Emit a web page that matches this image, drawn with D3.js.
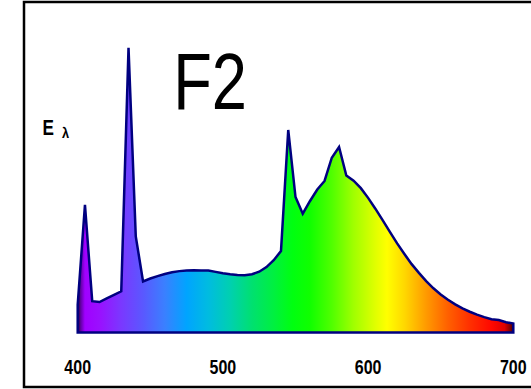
<!DOCTYPE html>
<html>
<head>
<meta charset="utf-8">
<script src="https://cdn.jsdelivr.net/npm/d3@7"></script>
<style>
  html, body { margin: 0; padding: 0; background: #fff; }
  svg { display: block; font-family: "Liberation Sans", Arial, sans-serif; }
</style>
</head>
<body>
<script>
// CIE illuminant F2 relative spectral power, 400-700 nm, 5 nm steps
const wavelengths = [400,405,410,415,420,425,430,435,440,445,450,455,460,465,470,475,480,485,490,495,
  500,505,510,515,520,525,530,535,540,545,550,555,560,565,570,575,580,585,590,595,
  600,605,610,615,620,625,630,635,640,645,650,655,660,665,670,675,680,685,690,695,700];
const power = [3.44,15.69,3.85,3.74,4.19,4.62,5.06,34.98,11.81,6.27,6.63,6.93,7.19,7.40,7.54,7.62,7.65,7.62,7.62,7.45,
  7.28,7.15,7.05,7.04,7.16,7.47,8.04,8.88,10.01,24.88,16.64,14.59,16.16,17.56,18.62,21.47,22.79,19.29,18.66,17.73,
  16.54,15.21,13.80,12.36,10.95,9.65,8.40,7.32,6.31,5.43,4.68,4.02,3.45,2.96,2.55,2.19,1.89,1.64,1.53,1.27,1.10];
const tickLabels = [400, 500, 600, 700];
const title = "F2";
const yLabel = "E";
const yLabelSub = "λ";
// spectrum gradient stops (wavelength, colour)
const stopWavelengths = [400,402,405,415,430,445,460,475,490,505,520,535,548,560,575,590,605,613,625,640,655,670,685,694,698,700];
const stopColors = ["#1a0020","#6000a0","#a000ff","#9a10ff","#7a38ff","#5a58ff","#3a80ff","#00a4ff","#00bce0","#00d0b0",
  "#00e070","#00f040","#00ff10","#10ff00","#50ff00","#a0ff00","#e0ff00","#ffff00","#ffd800","#ff9a00",
  "#ff6000","#ff3000","#ff0800","#e00000","#800000","#400000"];

const W = 531, H = 389;
const svg = d3.select("body").append("svg").attr("width", W).attr("height", H);

const x = d3.scaleLinear().domain([400, 700]).range([77.7, 513.3]);
const y = d3.scaleLinear().domain([0, 35]).range([332.5, 47.6]);

const data = wavelengths.map((w, i) => ({ w, v: power[i] }));

// frame
svg.append("rect")
  .attr("x", 24).attr("y", 2)
  .attr("width", W + 10).attr("height", 385)
  .attr("fill", "none").attr("stroke", "#000").attr("stroke-width", 2.5);

// gradient
const defs = svg.append("defs");
const grad = defs.append("linearGradient")
  .attr("id", "spec").attr("gradientUnits", "userSpaceOnUse")
  .attr("x1", x(400)).attr("x2", x(700)).attr("y1", 0).attr("y2", 0);
grad.selectAll("stop").data(stopWavelengths).join("stop")
  .attr("offset", d => (d - 400) / 300)
  .attr("stop-color", (d, i) => stopColors[i]);

const area = d3.area()
  .x(d => x(d.w))
  .y0(y(0))
  .y1(d => y(d.v));

svg.append("path")
  .datum(data)
  .attr("d", area)
  .attr("fill", "url(#spec)")
  .attr("stroke", "#000080")
  .attr("stroke-width", 2.5)
  .attr("stroke-linejoin", "miter")
  .attr("stroke-miterlimit", 4);

// x tick labels
svg.append("g").selectAll("g").data(tickLabels).join("g")
  .attr("transform", d => `translate(${x(d)},373.5) scale(0.8,1)`)
  .append("text")
  .attr("text-anchor", "middle")
  .attr("font-size", 20)
  .attr("font-weight", "bold")
  .attr("fill", "#000")
  .text(d => d);

// title
svg.append("g").attr("transform", "translate(210,108.5) scale(0.8,1)")
  .append("text")
  .attr("text-anchor", "middle")
  .attr("font-size", 79)
  .attr("fill", "#000")
  .text(title);

// y label E_lambda
svg.append("g").attr("transform", "translate(42.5,135) scale(0.78,1)")
  .append("text")
  .attr("font-size", 22)
  .attr("font-weight", "bold")
  .attr("fill", "#000")
  .text(yLabel);
svg.append("g").attr("transform", "translate(62,138) scale(0.85,1)")
  .append("text")
  .attr("font-size", 15)
  .attr("font-weight", "bold")
  .attr("fill", "#000")
  .text(yLabelSub);
</script>
</body>
</html>
